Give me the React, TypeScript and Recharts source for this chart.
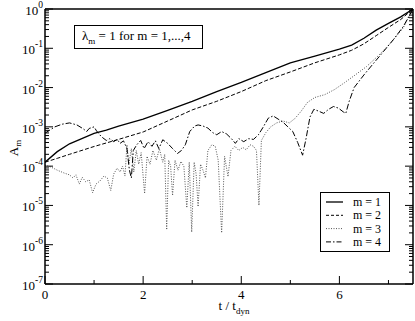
import React from 'react';
import { LineChart, Line, XAxis, YAxis } from 'recharts';

const FONT = "'Liberation Serif', 'Times New Roman', 'DejaVu Serif', serif";

// x axis: t / t_dyn
const xTicks = [0, 1, 2, 3, 4, 5, 6, 7];
const xLabelTicks = [0, 2, 4, 6];

// y axis: log decades 1e-7 .. 1e0, minor ticks at 2..9 of each decade
const yDecades = [1e-7, 1e-6, 1e-5, 1e-4, 1e-3, 1e-2, 1e-1, 1];
const yMinorSteps = [2, 3, 4, 5, 6, 7, 8, 9];

// m = 1 (solid)
const tM1 = [0, 0.25, 0.5, 0.75, 1, 1.25, 1.5, 2, 2.5, 3, 3.5, 4, 4.5, 5, 5.5, 6, 6.25, 6.5, 6.75, 7, 7.25, 7.5];
const aM1 = [1.26e-4, 2.34e-4, 3.7e-4, 5.0e-4, 6.8e-4, 8.3e-4, 1.05e-3, 1.58e-3, 2.63e-3, 4.47e-3, 7.9e-3, 1.35e-2, 2.4e-2, 4.27e-2, 6.3e-2, 9.5e-2, 0.12, 0.18, 0.29, 0.43, 0.63, 1];

// m = 2 (dashed)
const tM2 = [0, 0.25, 0.5, 1, 1.5, 2, 2.5, 3, 3.5, 4, 4.5, 5, 5.5, 6, 6.25, 6.5, 6.75, 7, 7.25, 7.5];
const aM2 = [1.26e-4, 1.58e-4, 2.0e-4, 3.16e-4, 4.8e-4, 7.4e-4, 1.41e-3, 2.7e-3, 4.47e-3, 7.9e-3, 1.5e-2, 2.5e-2, 4.27e-2, 6.8e-2, 8.9e-2, 0.13, 0.21, 0.34, 0.54, 1];

// m = 3 (dotted)
const tM3 = [
  0, 0.12, 0.25, 0.4, 0.5, 0.57, 0.63, 0.7, 0.76, 0.83, 0.9, 0.97, 1.04, 1.12, 1.2, 1.27, 1.34, 1.4, 1.47, 1.53,
  1.58, 1.63, 1.67, 1.71, 1.76, 1.81, 1.86, 1.91, 1.96, 2.03, 2.08, 2.14, 2.2, 2.27, 2.33, 2.4, 2.44, 2.48, 2.52, 2.56,
  2.6, 2.65, 2.71, 2.77, 2.83, 2.89, 2.94, 2.99, 3.04, 3.08, 3.12, 3.17, 3.22, 3.27, 3.32, 3.4, 3.47, 3.53, 3.6, 3.66,
  3.73, 3.79, 3.87, 3.95, 4.03, 4.1, 4.18, 4.25, 4.31, 4.36, 4.41, 4.5, 4.6, 4.72, 4.85, 4.98, 5.1, 5.22, 5.35, 5.5,
  5.7, 5.9, 6.1, 6.3, 6.55, 6.8, 7.05, 7.3, 7.5,
];
const aM3 = [
  1.07e-4, 9.5e-5, 7.9e-5, 6.6e-5, 6.0e-5, 5.0e-5, 6.0e-5, 3.5e-5, 5.2e-5, 4.0e-5, 4.5e-5, 2.1e-5, 3.5e-5, 4.2e-5, 5.6e-5, 5.0e-5, 2.4e-5, 6.3e-5, 8.9e-5, 7.1e-5,
  1.0e-4, 5.6e-5, 3.5e-4, 1.12e-4, 2.8e-4, 7.1e-5, 2.5e-4, 1.12e-4, 2.2e-4, 2.0e-5, 1.78e-4, 1.12e-4, 2.5e-4, 1.41e-4, 2.8e-4, 1.26e-4, 2.0e-4, 2.4e-6, 1.41e-4, 1.0e-4,
  1.78e-5, 1.41e-4, 7.9e-5, 1.32e-4, 1.0e-4, 8.7e-6, 1.26e-4, 2.1e-6, 1.26e-4, 6.3e-5, 9.3e-6, 1.12e-4, 7.9e-5, 5.0e-5, 2.5e-4, 3.5e-4, 3.2e-4, 1.41e-4, 2.0e-6, 1.78e-4,
  5.4e-5, 2.5e-4, 3.2e-4, 2.5e-4, 3.0e-4, 2.6e-4, 3.5e-4, 3.2e-4, 2.5e-4, 1.0e-5, 4.5e-4, 7.1e-4, 1.0e-3, 1.26e-3, 1.41e-3, 1.26e-3, 1.66e-3, 2.5e-3, 4.2e-3, 5.6e-3,
  6.6e-3, 8.9e-3, 1.32e-2, 2.0e-2, 3.4e-2, 6.6e-2, 0.138, 0.33, 1,
];

// m = 4 (dash-dot)
const tM4 = [
  0, 0.2, 0.35, 0.5, 0.65, 0.78, 0.85, 0.9, 1, 1.05, 1.15, 1.25, 1.32, 1.4, 1.47, 1.53, 1.6, 1.67, 1.72, 1.76,
  1.8, 1.87, 1.95, 2.02, 2.1, 2.18, 2.25, 2.32, 2.4, 2.5, 2.6, 2.7, 2.78, 2.86, 2.95, 3.05, 3.12, 3.22, 3.32, 3.42,
  3.5, 3.6, 3.7, 3.8, 3.88, 3.95, 4.05, 4.15, 4.25, 4.35, 4.45, 4.55, 4.65, 4.75, 4.85, 4.95, 5.05, 5.15, 5.25, 5.32,
  5.4, 5.48, 5.58, 5.68, 5.78, 5.88, 5.98, 6.08, 6.13, 6.2, 6.3, 6.5, 6.7, 6.9, 7.1, 7.3, 7.5,
];
const aM4 = [
  6.9e-4, 1.0e-3, 1.17e-3, 1.26e-3, 1.12e-3, 8.9e-4, 7.6e-4, 9.1e-4, 1.0e-3, 7.9e-4, 5.6e-4, 4.5e-4, 5.0e-4, 4.2e-4, 4.8e-4, 3.8e-4, 4.4e-4, 2.8e-4, 7.9e-5, 5.0e-5,
  2.5e-4, 3.5e-4, 4.5e-4, 2.8e-4, 4.2e-4, 3.2e-4, 4.4e-4, 2.8e-4, 4.7e-4, 3.8e-4, 2.8e-4, 2.1e-4, 2.5e-4, 3.5e-4, 7.6e-4, 1.05e-3, 1.12e-3, 1.05e-3, 9.3e-4, 7.1e-4,
  6.3e-4, 7.6e-4, 6.6e-4, 5.0e-4, 3.8e-4, 5.0e-4, 4.2e-4, 5.0e-4, 4.8e-4, 6.3e-4, 1.0e-3, 1.66e-3, 1.9e-3, 1.58e-3, 1.32e-3, 1.0e-3, 7.6e-4, 4.0e-4, 1.9e-4, 5.0e-4,
  1.78e-3, 2.8e-3, 2.5e-3, 2.2e-3, 2.8e-3, 3.3e-3, 3.0e-3, 2.4e-3, 2.2e-3, 4.5e-3, 1.0e-2, 2.1e-2, 4.2e-2, 8.3e-2, 0.166, 0.355, 1,
];

const toPoints = (ts: number[], vs: number[]) => ts.map((t, i) => ({ t, v: vs[i] }));

const series = [
  { name: 'm = 1', data: toPoints(tM1, aM1), color: '#000', dash: undefined, width: 1.3, legendDash: undefined },
  { name: 'm = 2', data: toPoints(tM2, aM2), color: '#000', dash: '4 2', width: 1, legendDash: '3 2' },
  { name: 'm = 3', data: toPoints(tM3, aM3), color: '#555', dash: '1 1.5', width: 1, legendDash: '1 1.5' },
  { name: 'm = 4', data: toPoints(tM4, aM4), color: '#000', dash: '6 2 1.5 2', width: 1, legendDash: '5 2 1.5 2' },
];

const yTicks = [
  ...yDecades,
  ...yDecades.slice(0, -1).flatMap((d) => yMinorSteps.map((s) => s * d)),
].sort((a, b) => a - b);

const isMajor = (v: number) => {
  const l = Math.log10(v);
  return Math.abs(l - Math.round(l)) < 1e-6;
};

const txt = { fontFamily: FONT };

const LeftTick = ({ x, y, payload }: any) => {
  const v = payload.value;
  const major = isMajor(v);
  return (
    <g>
      <line x1={x} x2={x + (major ? 8 : 4)} y1={y} y2={y} stroke="#000" strokeWidth={1} />
      {major && (
        <text x={x - 2} y={y + 6} textAnchor="end" style={txt} fontSize={13} fill="#000">
          10
          <tspan dy={-7} fontSize={9.5}>
            {String(Math.round(Math.log10(v)))}
          </tspan>
        </text>
      )}
    </g>
  );
};

const RightTick = ({ x, y, payload }: any) => {
  const major = isMajor(payload.value);
  return <line x1={x - (major ? 8 : 4)} x2={x} y1={y} y2={y} stroke="#000" strokeWidth={1} />;
};

const BottomTick = ({ x, y, payload }: any) => {
  const major = xLabelTicks.includes(payload.value);
  return (
    <g>
      <line x1={x} x2={x} y1={y - (major ? 8 : 4)} y2={y} stroke="#000" strokeWidth={1} />
      {major && (
        <text x={x} y={y + 15} textAnchor="middle" style={txt} fontSize={13} fill="#000">
          {payload.value}
        </text>
      )}
    </g>
  );
};

const TopTick = ({ x, y, payload }: any) => {
  const major = xLabelTicks.includes(payload.value);
  return <line x1={x} x2={x} y1={y} y2={y + (major ? 8 : 4)} stroke="#000" strokeWidth={1} />;
};

const axisLine = { stroke: '#000', strokeWidth: 1.5 };

export default function App() {
  return (
    <div style={{ position: 'absolute', left: 0, top: 0, width: 415, height: 321, background: '#fff', fontFamily: FONT }}>
      <LineChart width={415} height={321} margin={{ top: 0, right: 0, bottom: 0, left: 0 }}>
        <XAxis
          xAxisId="bottom"
          dataKey="t"
          type="number"
          domain={[0, 7.5]}
          ticks={xTicks}
          interval={0}
          height={37}
          tickSize={0}
          tickMargin={0}
          tickLine={false}
          axisLine={axisLine}
          tick={(p: any) => <BottomTick {...p} />}
          allowDataOverflow
        />
        <XAxis
          xAxisId="top"
          orientation="top"
          type="number"
          domain={[0, 7.5]}
          ticks={xTicks}
          interval={0}
          height={9}
          tickSize={0}
          tickMargin={0}
          tickLine={false}
          axisLine={axisLine}
          tick={(p: any) => <TopTick {...p} />}
          allowDataOverflow
        />
        <YAxis
          yAxisId="left"
          type="number"
          scale="log"
          domain={[1e-7, 1]}
          ticks={yTicks}
          interval={0}
          width={45}
          tickSize={0}
          tickMargin={0}
          tickLine={false}
          axisLine={axisLine}
          tick={(p: any) => <LeftTick {...p} />}
          allowDataOverflow
        />
        <YAxis
          yAxisId="right"
          orientation="right"
          type="number"
          scale="log"
          domain={[1e-7, 1]}
          ticks={yTicks}
          interval={0}
          width={2}
          tickSize={0}
          tickMargin={0}
          tickLine={false}
          axisLine={axisLine}
          tick={(p: any) => <RightTick {...p} />}
          allowDataOverflow
        />
        {series.map((s) => (
          <Line
            key={s.name}
            xAxisId="bottom"
            yAxisId="left"
            data={s.data}
            dataKey="v"
            name={s.name}
            type="linear"
            stroke={s.color}
            strokeWidth={s.width}
            strokeDasharray={s.dash}
            dot={false}
            activeDot={false}
            isAnimationActive={false}
          />
        ))}
      </LineChart>

      <svg
        width={415}
        height={321}
        style={{ position: 'absolute', left: 0, top: 0, pointerEvents: 'none', fontFamily: FONT }}
      >
        {/* annotation */}
        <rect x={74.5} y={25.5} width={128} height={23} fill="#fff" stroke="#000" strokeWidth={1} />
        <text x={82} y={40} fontSize={13} fill="#000" style={txt}>
          λ<tspan dy={4} fontSize={9}>m</tspan>
          <tspan dy={-4}> = 1 for m = 1,...,4</tspan>
        </text>

        {/* axis titles */}
        <text x={18} y={148} transform="rotate(-90 18 148)" textAnchor="middle" fontSize={13} fill="#000" style={txt}>
          A<tspan dy={3} fontSize={9}>m</tspan>
        </text>
        <text x={234} y={310} textAnchor="middle" fontSize={13} fill="#000" style={txt}>
          t / t<tspan dy={4} fontSize={9}>dyn</tspan>
        </text>

        {/* legend */}
        <rect x={320.5} y={192.5} width={69} height={59} fill="#fff" stroke="#000" strokeWidth={1} />
        {series.map((s, i) => {
          const cy = 202 + i * 13.3;
          return (
            <g key={s.name}>
              <line x1={326} x2={343} y1={cy} y2={cy} stroke={s.color} strokeWidth={s.width} strokeDasharray={s.legendDash} />
              <text x={353} y={cy + 4} fontSize={12} fill="#000" style={txt}>
                {s.name}
              </text>
            </g>
          );
        })}
      </svg>
    </div>
  );
}
